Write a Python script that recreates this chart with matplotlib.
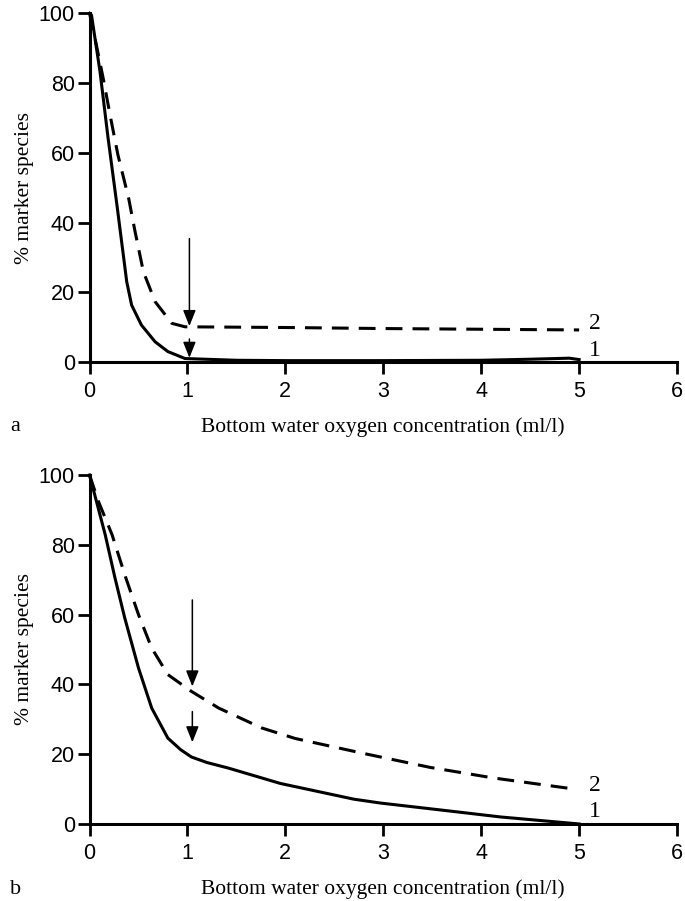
import matplotlib
matplotlib.use("Agg")
import matplotlib.pyplot as plt

# -----------------------------------------------------------------------------
# Data (x = bottom water O2 in ml/l, y = % marker species)
# -----------------------------------------------------------------------------
top_solid_x = [0, 0.02, 0.107, 0.19, 0.28, 0.345, 0.38, 0.43, 0.53, 0.67, 0.80, 0.975,
               1.5, 2.0, 3.0, 4.0, 4.5, 4.9, 5.0]
top_solid_y = [100, 99.5, 83.3, 64.1, 45, 30.7, 23, 16.3, 10.6, 5.8, 3.0, 1.0,
               0.5, 0.4, 0.4, 0.5, 0.8, 1.1, 0.7]

top_dash_x = [0, 0.04, 0.14, 0.21, 0.29, 0.40, 0.465, 0.55, 0.67, 0.84, 0.975,
              2.0, 3.0, 4.0, 5.0]
top_dash_y = [100, 95, 81.3, 70.8, 59.4, 46.9, 37.4, 25.9, 17.3, 11.1, 10.1,
              9.9, 9.6, 9.4, 9.2]

bot_solid_x = [0, 0.16, 0.26, 0.36, 0.50, 0.635, 0.80, 0.93, 1.04, 1.2, 1.42, 1.95,
               2.7, 2.97, 3.65, 4.2, 5.0]
bot_solid_y = [100, 82.9, 70.5, 59, 44.7, 33.2, 24.6, 21.3, 19.2, 17.6, 16, 11.6,
               7.1, 6.0, 3.8, 2.0, 0]

bot_dash_x = [0, 0.09, 0.23, 0.36, 0.50, 0.635, 0.80, 1.04, 1.32, 1.76, 2.1, 2.8,
              3.48, 4.12, 4.9]
bot_dash_y = [100, 92.5, 82.9, 71.4, 60, 50.4, 42.8, 38, 33.2, 27.5, 24.5, 20.2,
              16.2, 13.2, 10.2]

# arrows: (x, y_start, y_end)
top_arrows = [(1.02, 35.4, 10.3), (1.02, 6.6, 1.2)]
bot_arrows = [(1.05, 64.2, 39.4), (1.05, 32.2, 23.4)]

x_ticks = [0, 1, 2, 3, 4, 5, 6]
y_ticks = [0, 20, 40, 60, 80, 100]

XLABEL = "Bottom water oxygen concentration (ml/l)"
YLABEL = "% marker species"

SERIF = ["Liberation Serif", "DejaVu Serif"]
SANS = ["Liberation Sans", "DejaVu Sans"]


def style_axes(ax):
    ax.set_xlim(0, 6)
    ax.set_ylim(0, 100)
    ax.set_xticks(x_ticks)
    ax.set_yticks(y_ticks)
    for side in ("top", "right"):
        ax.spines[side].set_visible(False)
    for side in ("left", "bottom"):
        ax.spines[side].set_linewidth(2.2)
    ax.tick_params(direction="out", length=8.5, width=2, labelsize=15.5)
    ax.tick_params(axis="x", pad=5)
    ax.tick_params(axis="y", pad=2)
    for lab in ax.get_xticklabels() + ax.get_yticklabels():
        lab.set_family(SANS)
    ax.set_xlabel(XLABEL, family=SERIF, fontsize=15.5, va="center")
    ax.set_ylabel(YLABEL, family=SERIF, fontsize=15.5, va="center")
    ax.xaxis.set_label_coords(0.5, -0.186)
    ax.yaxis.set_label_coords(-0.11, 0.5)


def draw_panel(ax, sx, sy, dx, dy, arrows, y1, y2):
    ax.plot(sx, sy, color="black", lw=2.2, solid_joinstyle="round", clip_on=False)
    ax.plot(dx, dy, color="black", lw=2.2, linestyle=(0, (5.5, 3.3)), clip_on=False)
    for x, ys, ye in arrows:
        ax.annotate("", xy=(x, ye), xytext=(x, ys),
                    arrowprops=dict(arrowstyle="-|>,head_length=0.6,head_width=0.24",
                                    color="black", lw=1.1,
                                    mutation_scale=16, shrinkA=0, shrinkB=0))
    ax.text(5.1, y2, "2", family=SERIF, fontsize=17, va="center", ha="left")
    ax.text(5.1, y1, "1", family=SERIF, fontsize=17, va="center", ha="left")
    style_axes(ax)


fig = plt.figure(figsize=(6.85, 9.01), dpi=100)
ax_top = fig.add_axes([0.1307, 0.5982, 0.8577, 0.387])
ax_bot = fig.add_axes([0.1307, 0.0855, 0.8577, 0.3873])

draw_panel(ax_top, top_solid_x, top_solid_y, top_dash_x, top_dash_y, top_arrows, 3.4, 11.1)
draw_panel(ax_bot, bot_solid_x, bot_solid_y, bot_dash_x, bot_dash_y, bot_arrows, 3.7, 10.9)

fig.text(10 / 685, 1 - 427 / 901, "a", family=SERIF, fontsize=16, va="center", ha="left")
fig.text(10 / 685, 1 - 889 / 901, "b", family=SERIF, fontsize=16, va="center", ha="left")

fig.savefig("out.png", dpi=100)
